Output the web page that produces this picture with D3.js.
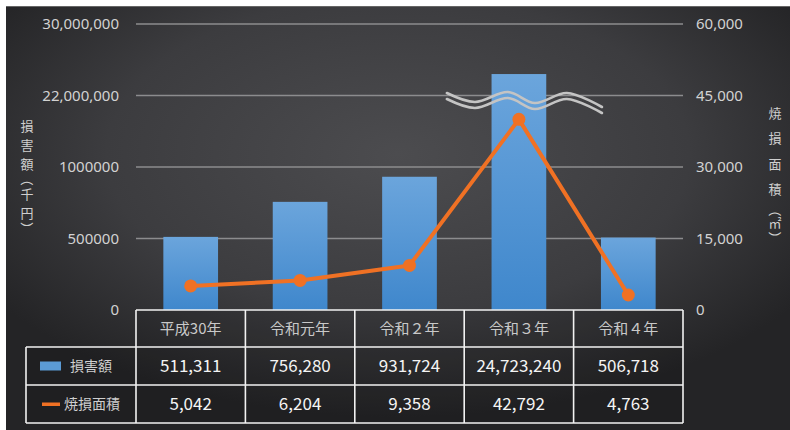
<!DOCTYPE html>
<html><head><meta charset="utf-8">
<script src="https://cdn.jsdelivr.net/npm/d3@7"></script>
<style>
html,body{margin:0;padding:0;background:#fff;}
svg{display:block;}
text{font-family:"Noto Sans CJK JP","Noto Sans",sans-serif;}
</style></head>
<body>
<svg id="c" width="790" height="430"></svg>
<script>
const categories = ["平成30年","令和元年","令和２年","令和３年","令和４年"];
// values as printed in the data table
const damageLabels = ["511,311","756,280","931,724","24,723,240","506,718"];
const areaLabels = ["5,042","6,204","9,358","42,792","4,763"];
// values as plotted in the picture
const damage = [511311, 756280, 931724, 24400000, 506718];
const area = [5042, 6204, 9358, 40000, 3150];
const leftTickValues = [0, 500000, 1000000, 22000000, 30000000];
const leftTickLabels = ["0","500000","1000000","22,000,000","30,000,000"];
const rightTickValues = [0, 15000, 30000, 45000, 60000];
const seriesNames = ["損害額","焼損面積"];
const leftTitle = "損害額（千円）";
const rightTitle = "焼損面積（㎡）";

const svg = d3.select("#c");
const W = 790, H = 430;
const plotL = 136, plotR = 683, plotT = 24, plotB = 310;

// background
const defs = svg.append("defs");
const bg = defs.append("radialGradient").attr("id","bg")
  .attr("cx","0.5").attr("cy","0.35").attr("r","0.62");
bg.append("stop").attr("offset","0").attr("stop-color","#4c4c4f");
bg.append("stop").attr("offset","0.6").attr("stop-color","#3c3c3f");
bg.append("stop").attr("offset","1").attr("stop-color","#242426");
svg.append("rect").attr("x",6).attr("y",6).attr("width",W-6).attr("height",H-6).attr("fill","url(#bg)");
svg.append("line").attr("x1",6).attr("x2",W).attr("y1",6.5).attr("y2",6.5).attr("stroke","#666").attr("stroke-width",1);

const barGrad = defs.append("linearGradient").attr("id","barg").attr("x1",0).attr("x2",0).attr("y1",0).attr("y2",1);
barGrad.append("stop").attr("offset","0").attr("stop-color","#6ba5dc");
barGrad.append("stop").attr("offset","1").attr("stop-color","#3f87cc");

// scales
const x = d3.scaleBand().domain(categories).range([plotL, plotR]).padding(0);
const segH = (plotB - plotT) / (leftTickValues.length - 1);
const yL = d3.scaleLinear().domain(leftTickValues).range(leftTickValues.map((d,i)=>plotB - i*segH));
const yR = d3.scaleLinear().domain([0, 60000]).range([plotB, plotT]);

// gridlines
svg.append("g").selectAll("line").data(leftTickValues.slice(1)).join("line")
  .attr("x1",plotL).attr("x2",plotR)
  .attr("y1",d=>yL(d)).attr("y2",d=>yL(d))
  .attr("stroke","#8c8c8e").attr("stroke-width",1.5);

// left axis
const axL = svg.append("g").attr("transform",`translate(${plotL-14},0)`)
  .call(d3.axisLeft(yL).tickValues(leftTickValues).tickSize(0)
    .tickFormat((d,i)=>leftTickLabels[i]));
axL.select(".domain").remove();
axL.selectAll("text").attr("fill","#d2d2d2").attr("font-size",15).attr("dx",0)
  .style("font-family","'Noto Sans','Noto Sans CJK JP',sans-serif");

// right axis
const axR = svg.append("g").attr("transform",`translate(${plotR+10},0)`)
  .call(d3.axisRight(yR).tickValues(rightTickValues).tickSize(0)
    .tickFormat(d3.format(",")));
axR.select(".domain").remove();
axR.selectAll("text").attr("fill","#d2d2d2").attr("font-size",15)
  .style("font-family","'Noto Sans','Noto Sans CJK JP',sans-serif");

// bars
const bw = x.bandwidth()*0.5;
svg.append("g").selectAll("rect").data(damage).join("rect")
  .attr("x",(d,i)=>x(categories[i]) + (x.bandwidth()-bw)/2)
  .attr("width",bw)
  .attr("y",d=>yL(d))
  .attr("height",d=>plotB - yL(d))
  .attr("fill","url(#barg)");

// break wave on tall bar
const breakIdx = 3;
const waveOffsets = [[-72,-2.5],[-44,6.5],[-11,-3.5],[16,7.5],[48,-2.5],[83,11.5]];
const wx = x(categories[breakIdx]) + x.bandwidth()/2, wy = yL(22000000);
const waveLine = d3.line().x(d=>wx+d[0]).curve(d3.curveCatmullRom);
[0,6].forEach(off=>{
  svg.append("path").attr("d", waveLine.y(d=>wy+d[1]+off)(waveOffsets))
    .attr("fill","none").attr("stroke","#c4c4c4").attr("stroke-width",2.6).attr("stroke-linecap","round");
});

// line
const cx = i => x(categories[i]) + x.bandwidth()/2;
svg.append("path").datum(area)
  .attr("d", d3.line().x((d,i)=>cx(i)).y(d=>yR(d)))
  .attr("fill","none").attr("stroke","#f07124").attr("stroke-width",4).attr("stroke-linejoin","round");
svg.append("g").selectAll("circle").data(area).join("circle")
  .attr("cx",(d,i)=>cx(i)).attr("cy",d=>yR(d)).attr("r",6.5).attr("fill","#f07124");

// axis titles (vertical, char by char; brackets rotated like vertical writing)
function vTitle(str, xPos, yStart, step){
  const chars = Array.from(str);
  const adv = c => ("（）".includes(c) ? 0.6 : (c==="㎡" ? 0.5 : 1)) * step;
  let y = yStart;
  chars.forEach((c,i)=>{
    if(i>0) y += (adv(chars[i-1]) + adv(c))/2;
    const t = svg.append("text").text(c).attr("x",xPos).attr("y",y).attr("dy","0.35em")
      .attr("text-anchor","middle").attr("font-size",13).attr("fill","#cfcfcf");
    if("（）".includes(c)) t.attr("transform",`rotate(90,${xPos},${y})`);
  });
}
vTitle(leftTitle, 27, 126, 19);
vTitle(rightTitle, 775, 113, 25.5);

// data table
const rowY = [310, 347, 385, 423];
const tblL = 26;
const tg = svg.append("g");
tg.append("rect").attr("x",plotL).attr("y",rowY[0]).attr("width",plotR-plotL).attr("height",rowY[1]-rowY[0]).attr("fill","rgba(0,0,0,0.08)");
tg.append("rect").attr("x",tblL).attr("y",rowY[1]).attr("width",plotR-tblL).attr("height",rowY[3]-rowY[1]).attr("fill","rgba(0,0,0,0.12)");
const lineStyle = s => s.attr("stroke","#f2f2f2").attr("stroke-width",1.6);
lineStyle(tg.append("line").attr("x1",plotL).attr("x2",plotR).attr("y1",rowY[0]).attr("y2",rowY[0]));
[1,2,3].forEach(r=>lineStyle(tg.append("line").attr("x1",tblL).attr("x2",plotR).attr("y1",rowY[r]).attr("y2",rowY[r])));
lineStyle(tg.append("line").attr("x1",tblL).attr("x2",tblL).attr("y1",rowY[1]).attr("y2",rowY[3]));
categories.forEach(c=>lineStyle(tg.append("line").attr("x1",x(c)).attr("x2",x(c)).attr("y1",rowY[0]).attr("y2",rowY[3])));
lineStyle(tg.append("line").attr("x1",plotR).attr("x2",plotR).attr("y1",rowY[0]).attr("y2",rowY[3]));

tg.selectAll("text.h").data(categories).join("text").attr("class","h")
  .attr("x",d=>x(d)+x.bandwidth()/2).attr("y",(rowY[0]+rowY[1])/2).attr("dy","0.36em")
  .attr("text-anchor","middle").attr("font-size",15).attr("fill","#c9c9c9").text(d=>d);
[damageLabels, areaLabels].forEach((labels,r)=>{
  tg.selectAll("text.v"+r).data(labels).join("text").attr("class","v"+r)
    .attr("x",(d,i)=>x(categories[i])+x.bandwidth()/2).attr("y",(rowY[r+1]+rowY[r+2])/2).attr("dy","0.36em")
    .attr("text-anchor","middle").attr("font-size",17).attr("fill","#f4f4f4").text(d=>d);
});
const ly1 = (rowY[1]+rowY[2])/2, ly2 = (rowY[2]+rowY[3])/2;
tg.append("rect").attr("x",40).attr("y",ly1-4.5).attr("width",21).attr("height",9).attr("fill","#5b9bd5");
tg.append("text").attr("x",70).attr("y",ly1).attr("dy","0.36em").attr("font-size",14).attr("fill","#cfcfcf").text(seriesNames[0]);
tg.append("rect").attr("x",42).attr("y",ly2-1.5).attr("width",18).attr("height",3.5).attr("fill","#f07124");
tg.append("text").attr("x",64).attr("y",ly2).attr("dy","0.36em").attr("font-size",14).attr("fill","#cfcfcf").text(seriesNames[1]);
</script>
</body></html>
